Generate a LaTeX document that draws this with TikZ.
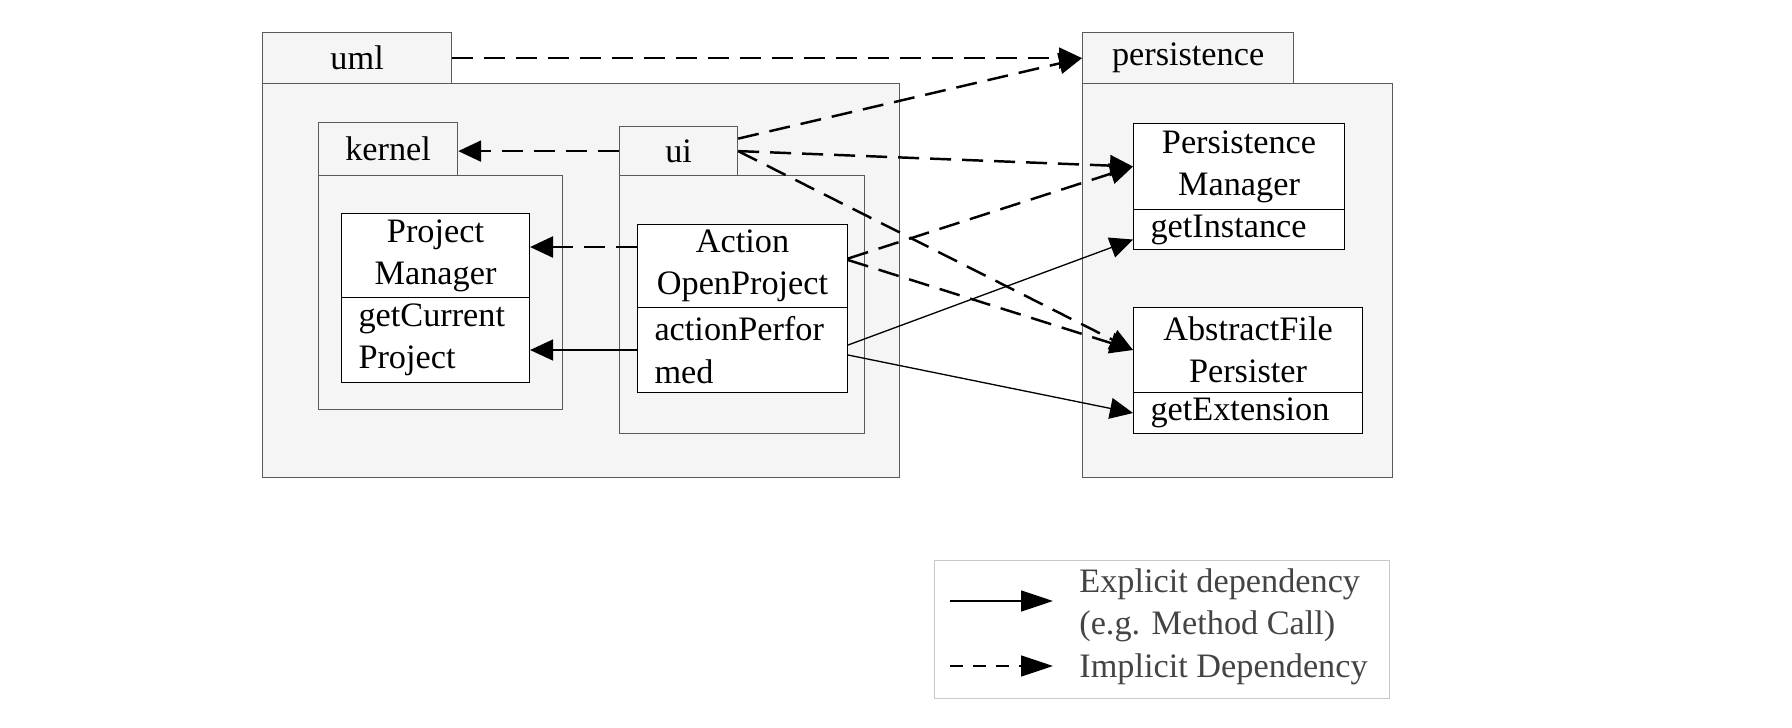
\documentclass[tikz,border=0pt]{standalone}
\usepackage{fontspec}
\setmainfont{Liberation Serif}
\usetikzlibrary{arrows.meta}

\definecolor{pkgfill}{HTML}{F5F5F5}
\definecolor{pkgline}{HTML}{5A5A5A}
\definecolor{legendtext}{HTML}{444444}
\definecolor{legendline}{HTML}{C8C8C8}

\begin{document}
\begin{tikzpicture}[
    font=\fontsize{19.5pt}{24pt}\selectfont,
    sz/.style 2 args={minimum width=#1, minimum height=#2},
    pkg/.style={draw=pkgline, fill=pkgfill, line width=0.7pt, inner sep=0pt, anchor=north west},
    cls/.style={draw=black, fill=white, line width=0.6pt, inner sep=0pt, align=center, anchor=north west},
    meth/.style={cls, align=left, inner xsep=0.34cm, text width=#1},
    dep/.style={dash pattern=on 0.42cm off 0.22cm, line width=1.4pt,
                -{Triangle[length=0.46cm,width=0.42cm]}},
    call/.style={line width=0.75pt, -{Triangle[length=0.46cm,width=0.42cm]}},
    legtext/.style={inner sep=0pt, align=left, text=legendtext},
    legcall/.style={line width=0.9pt, -{Triangle[length=0.64cm,width=0.42cm]}},
    legdep/.style={legcall, dash pattern=on 0.26cm off 0.2cm}]

    \fill[white] (0,0) rectangle (35.84,-14.56);
    \useasboundingbox (0,0) rectangle (35.84,-14.56);

    % Pacchetto uml
    \node[pkg, sz={12.74cm}{7.88cm}] (umlbody) at (5.24,-1.66) {};
    \node[pkg, sz={3.78cm}{1.02cm}] (umltab) at (5.24,-0.64) {uml};

    % kernel
    \node[pkg, sz={4.88cm}{4.68cm}] (kernelbody) at (6.36,-3.50) {};
    \node[pkg, sz={2.78cm}{1.06cm}] (kerneltab) at (6.36,-2.44) {kernel};
    \node[cls, sz={3.76cm}{1.68cm}] (pmname) at (6.82,-4.26) {Project\\Manager};
    \node[meth=3.08cm, sz={3.76cm}{1.70cm}] (pmmeth) at (6.82,-5.94) {getCurrent\\Project};

    % ui
    \node[pkg, sz={4.90cm}{5.16cm}] (uibody) at (12.38,-3.50) {};
    \node[pkg, sz={2.36cm}{0.98cm}] (uitab) at (12.38,-2.52) {ui};
    \node[cls, sz={4.20cm}{1.66cm}] (aopname) at (12.74,-4.48) {Action\\OpenProject};
    \node[meth=3.52cm, sz={4.20cm}{1.70cm}] (aopmeth) at (12.74,-6.14) {actionPerfor\\med};

    % Pacchetto persistence
    \node[pkg, sz={6.20cm}{7.88cm}] (persbody) at (21.64,-1.66) {};
    \node[pkg, sz={4.22cm}{1.02cm}] (perstab) at (21.64,-0.64) {persistence};
    \node[cls, sz={4.22cm}{1.72cm}] (psmname) at (22.66,-2.46) {Persistence\\Manager};
    \node[meth=3.54cm, sz={4.22cm}{0.80cm}] (psmmeth) at (22.66,-4.18) {getInstance};
    \node[cls, sz={4.58cm}{1.70cm}] (afpname) at (22.66,-6.14) {AbstractFile\\Persister};
    \node[meth=3.90cm, sz={4.58cm}{0.82cm}] (afpmeth) at (22.66,-7.84) {getExtension};

    % Dipendenze implicite
    \draw[dep] (umltab.east) -- (perstab.west);              % uml -> persistence
    \draw[dep] ([yshift=0.25cm]uitab.east) -- (perstab.west); % ui -> persistence
    \draw[dep] (uitab.west) -- (uitab.west -| kerneltab.east); % ui -> kernel
    \draw[dep] (uitab.east) -- (psmname.west);
    \draw[dep] (uitab.east) -- (afpname.west);
    \coordinate (aopdep) at ([yshift=0.38cm]aopname.west);
    \draw[dep] (aopdep) -- (aopdep -| pmname.east);
    \draw[dep] ([yshift=0.15cm]aopname.east) -- (psmname.west);
    \draw[dep] ([yshift=0.12cm]aopname.east) -- (afpname.west);

    % Dipendenze esplicite
    \draw[call] (aopmeth.west) -- (aopmeth.west -| pmmeth.east);
    \draw[call] ([yshift=0.1cm]aopmeth.east) -- ([yshift=-0.2cm]psmmeth.west);
    \draw[call] ([yshift=-0.1cm]aopmeth.east) -- (afpmeth.west);

    % Legenda
    \node[draw=legendline, line width=0.8pt, fill=white, inner sep=0pt, anchor=north west,
          sz={9.10cm}{2.76cm}] (legend) at (18.68,-11.2) {};
    \node[legtext, anchor=west] (explnote) at (21.58,-12.10) {Explicit dependency\\(e.g. Method Call)};
    \node[legtext, anchor=west] (implnote) at (21.58,-13.38) {Implicit Dependency};
    \coordinate (explfrom) at (19.00,-12.02);
    \coordinate (explto) at (21.06,-12.02);
    \coordinate (implfrom) at (19.00,-13.32);
    \coordinate (implto) at (21.06,-13.32);
    \draw[legcall] (explfrom) -- (explto);
    \draw[legdep] (implfrom) -- (implto);

\end{tikzpicture}
\end{document}
